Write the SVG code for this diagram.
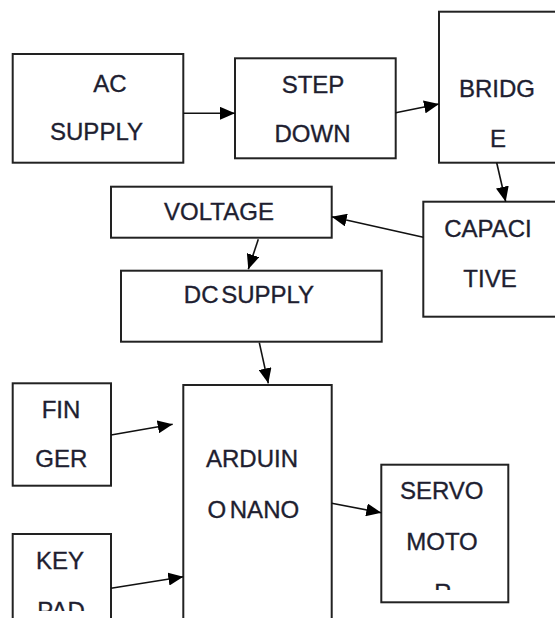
<svg xmlns="http://www.w3.org/2000/svg" width="555" height="618" viewBox="0 0 555 618">
<style>
.box{fill:#fff;stroke:#222;stroke-width:2}
.lbl{font-family:"Liberation Sans",Arial,sans-serif;font-size:24px;fill:#1e1e30;stroke:#1e1e30;stroke-width:0.35;text-anchor:middle}
.conn{stroke:#111;stroke-width:1.6;fill:none;marker-end:url(#ah)}
</style>
<defs>
<marker id="ah" markerUnits="userSpaceOnUse" markerWidth="15" markerHeight="13" refX="15" refY="6.5" orient="auto">
<path d="M0,0 L15,6.5 L0,13 z" fill="#000"/>
</marker>
<clipPath id="clipServo"><rect x="381" y="464" width="128" height="126"/></clipPath>
<clipPath id="clipKey"><rect x="12" y="534" width="100" height="77"/></clipPath>
</defs>
<rect width="555" height="618" fill="#fff"/>
<g id="ac-supply">
<rect class="box" x="12.7" y="54" width="170.6" height="108.7"/>
<text class="lbl" x="110" y="92">AC</text>
<text class="lbl" x="96.5" y="140">SUPPLY</text>
</g>
<g id="step-down">
<rect class="box" x="235" y="58.3" width="160.7" height="100"/>
<text class="lbl" x="313" y="93">STEP</text>
<text class="lbl" x="312.5" y="142">DOWN</text>
</g>
<g id="bridge">
<rect class="box" x="439" y="11.7" width="130" height="151"/>
<text class="lbl" x="497" y="96.7">BRIDG</text>
<text class="lbl" x="498" y="146.7">E</text>
</g>
<g id="capacitive">
<rect class="box" x="423.3" y="201.7" width="140" height="115"/>
<text class="lbl" x="488" y="236.7">CAPACI</text>
<text class="lbl" x="490" y="286.7">TIVE</text>
</g>
<g id="voltage">
<rect class="box" x="111" y="186.7" width="220.7" height="51"/>
<text class="lbl" x="219" y="220">VOLTAGE</text>
</g>
<g id="dc-supply">
<rect class="box" x="121" y="270.7" width="260.7" height="71"/>
<text class="lbl" x="249" y="303.3" word-spacing="-4">DC SUPPLY</text>
</g>
<g id="finger">
<rect class="box" x="12.7" y="383.3" width="98.3" height="102.4"/>
<text class="lbl" x="61" y="417.7">FIN</text>
<text class="lbl" x="61.3" y="467.3">GER</text>
</g>
<g id="keypad">
<rect class="box" x="12.7" y="534" width="98.3" height="100"/>
<text class="lbl" x="60" y="569">KEY</text>
<text class="lbl" x="61" y="619" clip-path="url(#clipKey)">PAD</text>
</g>
<g id="arduino-nano">
<rect class="box" x="183.3" y="385" width="148.4" height="250"/>
<text class="lbl" x="252" y="467.3">ARDUIN</text>
<text class="lbl" x="253.3" y="517.7" word-spacing="-3">O NANO</text>
</g>
<g id="servo-motor">
<rect class="box" x="381.3" y="464.7" width="127" height="137.6"/>
<text class="lbl" x="441.7" y="499.3">SERVO</text>
<text class="lbl" x="442" y="550">MOTO</text>
<text class="lbl" x="443" y="600.5" clip-path="url(#clipServo)">R</text>
</g>
<g id="connectors">
<line class="conn" x1="183.3" y1="113.3" x2="235" y2="113.3"/>
<line class="conn" x1="395.7" y1="112.7" x2="439" y2="104"/>
<line class="conn" x1="496.7" y1="162.7" x2="505.7" y2="201.7"/>
<line class="conn" x1="423.3" y1="237.3" x2="331.7" y2="216.7"/>
<line class="conn" x1="258.3" y1="239.3" x2="248.3" y2="269.3"/>
<line class="conn" x1="259.3" y1="342.7" x2="268.3" y2="383.3"/>
<line class="conn" x1="111" y1="435" x2="172.7" y2="424.3"/>
<line class="conn" x1="111" y1="588.3" x2="183.3" y2="576.7"/>
<line class="conn" x1="331.7" y1="503.3" x2="381.3" y2="512.7"/>
</g>
</svg>
